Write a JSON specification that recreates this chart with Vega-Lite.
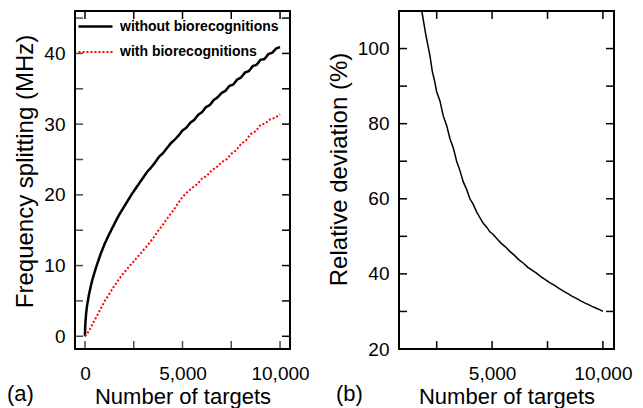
{
  "$schema": "https://vega.github.io/schema/vega-lite/v6.json",
  "padding": {"left": 6, "top": 8, "right": 5, "bottom": 0},
  "spacing": 15,
  "config": {
    "font": "Liberation Sans",
    "view": {"stroke": "black", "strokeWidth": 2},
    "axis": {"domain": false, "grid": false, "ticks": false, "minExtent": 0, "labelColor": "black", "titleColor": "black", "labelFontSize": 19, "titleFontSize": 22, "titleFontWeight": "normal", "labelFont": "Liberation Sans", "titleFont": "Liberation Sans", "labelFlush": false, "labelOverlap": false, "labelBound": false},
    "title": {"fontWeight": "normal", "fontSize": 22, "color": "black", "font": "Liberation Sans"}
  },
  "hconcat": [
    {
      "width": 215,
      "height": 338,
      "title": {"text": "(a)", "orient": "bottom", "anchor": "start", "frame": "group", "dx": -68, "dy": -27},
      "data": {"values": [
        {"n": 0, "f": 0, "s": "without biorecognitions"},
        {"n": 10, "f": 1.2, "s": "without biorecognitions"},
        {"n": 30, "f": 2.2, "s": "without biorecognitions"},
        {"n": 60, "f": 3.2, "s": "without biorecognitions"},
        {"n": 100, "f": 4.2, "s": "without biorecognitions"},
        {"n": 150, "f": 5.0, "s": "without biorecognitions"},
        {"n": 200, "f": 5.8, "s": "without biorecognitions"},
        {"n": 300, "f": 7.1, "s": "without biorecognitions"},
        {"n": 400, "f": 8.2, "s": "without biorecognitions"},
        {"n": 500, "f": 9.1, "s": "without biorecognitions"},
        {"n": 600, "f": 10.0, "s": "without biorecognitions"},
        {"n": 800, "f": 11.6, "s": "without biorecognitions"},
        {"n": 1000, "f": 13.0, "s": "without biorecognitions"},
        {"n": 1200, "f": 14.2, "s": "without biorecognitions"},
        {"n": 1400, "f": 15.3, "s": "without biorecognitions"},
        {"n": 1600, "f": 16.4, "s": "without biorecognitions"},
        {"n": 1800, "f": 17.4, "s": "without biorecognitions"},
        {"n": 2000, "f": 18.3, "s": "without biorecognitions"},
        {"n": 2200, "f": 19.2, "s": "without biorecognitions"},
        {"n": 2400, "f": 20.1, "s": "without biorecognitions"},
        {"n": 2600, "f": 20.9, "s": "without biorecognitions"},
        {"n": 2800, "f": 21.7, "s": "without biorecognitions"},
        {"n": 3000, "f": 22.5, "s": "without biorecognitions"},
        {"n": 3200, "f": 23.3, "s": "without biorecognitions"},
        {"n": 3400, "f": 23.9, "s": "without biorecognitions"},
        {"n": 3600, "f": 24.6, "s": "without biorecognitions"},
        {"n": 3800, "f": 25.4, "s": "without biorecognitions"},
        {"n": 4000, "f": 25.9, "s": "without biorecognitions"},
        {"n": 4200, "f": 26.6, "s": "without biorecognitions"},
        {"n": 4400, "f": 27.3, "s": "without biorecognitions"},
        {"n": 4600, "f": 27.8, "s": "without biorecognitions"},
        {"n": 4800, "f": 28.4, "s": "without biorecognitions"},
        {"n": 5000, "f": 29.1, "s": "without biorecognitions"},
        {"n": 5200, "f": 29.5, "s": "without biorecognitions"},
        {"n": 5400, "f": 30.2, "s": "without biorecognitions"},
        {"n": 5600, "f": 30.6, "s": "without biorecognitions"},
        {"n": 5800, "f": 31.3, "s": "without biorecognitions"},
        {"n": 6000, "f": 31.7, "s": "without biorecognitions"},
        {"n": 6200, "f": 32.4, "s": "without biorecognitions"},
        {"n": 6400, "f": 32.7, "s": "without biorecognitions"},
        {"n": 6600, "f": 33.4, "s": "without biorecognitions"},
        {"n": 6800, "f": 33.8, "s": "without biorecognitions"},
        {"n": 7000, "f": 34.4, "s": "without biorecognitions"},
        {"n": 7200, "f": 34.7, "s": "without biorecognitions"},
        {"n": 7400, "f": 35.4, "s": "without biorecognitions"},
        {"n": 7600, "f": 35.6, "s": "without biorecognitions"},
        {"n": 7800, "f": 36.3, "s": "without biorecognitions"},
        {"n": 8000, "f": 36.6, "s": "without biorecognitions"},
        {"n": 8200, "f": 37.3, "s": "without biorecognitions"},
        {"n": 8400, "f": 37.5, "s": "without biorecognitions"},
        {"n": 8600, "f": 38.2, "s": "without biorecognitions"},
        {"n": 8800, "f": 38.4, "s": "without biorecognitions"},
        {"n": 9000, "f": 39.1, "s": "without biorecognitions"},
        {"n": 9200, "f": 39.2, "s": "without biorecognitions"},
        {"n": 9400, "f": 39.9, "s": "without biorecognitions"},
        {"n": 9600, "f": 40.1, "s": "without biorecognitions"},
        {"n": 9800, "f": 40.7, "s": "without biorecognitions"},
        {"n": 10000, "f": 40.9, "s": "without biorecognitions"},
        {"n": 0, "f": 0, "s": "with biorecognitions"},
        {"n": 100, "f": 0.3, "s": "with biorecognitions"},
        {"n": 250, "f": 1.0, "s": "with biorecognitions"},
        {"n": 500, "f": 2.3, "s": "with biorecognitions"},
        {"n": 750, "f": 3.6, "s": "with biorecognitions"},
        {"n": 1000, "f": 4.9, "s": "with biorecognitions"},
        {"n": 1250, "f": 6.0, "s": "with biorecognitions"},
        {"n": 1500, "f": 7.1, "s": "with biorecognitions"},
        {"n": 1750, "f": 8.1, "s": "with biorecognitions"},
        {"n": 2000, "f": 9.0, "s": "with biorecognitions"},
        {"n": 2250, "f": 9.8, "s": "with biorecognitions"},
        {"n": 2500, "f": 10.6, "s": "with biorecognitions"},
        {"n": 2750, "f": 11.4, "s": "with biorecognitions"},
        {"n": 3000, "f": 12.2, "s": "with biorecognitions"},
        {"n": 3250, "f": 13.0, "s": "with biorecognitions"},
        {"n": 3500, "f": 13.9, "s": "with biorecognitions"},
        {"n": 3750, "f": 14.9, "s": "with biorecognitions"},
        {"n": 4000, "f": 15.8, "s": "with biorecognitions"},
        {"n": 4250, "f": 16.8, "s": "with biorecognitions"},
        {"n": 4500, "f": 17.7, "s": "with biorecognitions"},
        {"n": 4750, "f": 18.7, "s": "with biorecognitions"},
        {"n": 5000, "f": 19.7, "s": "with biorecognitions"},
        {"n": 5250, "f": 20.4, "s": "with biorecognitions"},
        {"n": 5500, "f": 21.0, "s": "with biorecognitions"},
        {"n": 5750, "f": 21.5, "s": "with biorecognitions"},
        {"n": 6000, "f": 22.3, "s": "with biorecognitions"},
        {"n": 6250, "f": 22.7, "s": "with biorecognitions"},
        {"n": 6500, "f": 23.5, "s": "with biorecognitions"},
        {"n": 6750, "f": 23.9, "s": "with biorecognitions"},
        {"n": 7000, "f": 24.6, "s": "with biorecognitions"},
        {"n": 7250, "f": 25.0, "s": "with biorecognitions"},
        {"n": 7500, "f": 25.8, "s": "with biorecognitions"},
        {"n": 7750, "f": 26.3, "s": "with biorecognitions"},
        {"n": 8000, "f": 27.2, "s": "with biorecognitions"},
        {"n": 8250, "f": 27.7, "s": "with biorecognitions"},
        {"n": 8500, "f": 28.6, "s": "with biorecognitions"},
        {"n": 8750, "f": 29.0, "s": "with biorecognitions"},
        {"n": 9000, "f": 29.9, "s": "with biorecognitions"},
        {"n": 9250, "f": 30.1, "s": "with biorecognitions"},
        {"n": 9500, "f": 30.7, "s": "with biorecognitions"},
        {"n": 9750, "f": 30.9, "s": "with biorecognitions"},
        {"n": 10000, "f": 31.4, "s": "with biorecognitions"}
      ]},
      "layer": [
        {
          "mark": {"type": "line", "clip": true},
          "encoding": {
            "x": {"field": "n", "type": "quantitative", "scale": {"domain": [-510, 10510], "nice": false, "zero": false}, "axis": {"orient": "bottom", "values": [0, 5000, 10000], "format": ",d", "labelPadding": 15, "title": "Number of targets", "titlePadding": 3}},
            "y": {"field": "f", "type": "quantitative", "scale": {"domain": [-1.8, 46], "nice": false, "zero": false}, "axis": {"orient": "left", "values": [0, 10, 20, 30, 40], "labelPadding": 10, "title": "Frequency splitting (MHz)", "titlePadding": 6, "titleFontSize": 24, "titleY": 160}},
            "color": {"field": "s", "type": "nominal", "scale": {"domain": ["without biorecognitions", "with biorecognitions"], "range": ["#000000", "#ff0000"]}, "legend": {"title": null, "orient": "none", "legendX": 2, "legendY": -3, "padding": 0, "symbolType": "stroke", "symbolSize": 1156, "symbolStrokeWidth": 2, "labelFontSize": 14, "labelFontWeight": "bold", "labelColor": "black", "labelOffset": 6, "rowPadding": 0}},
            "strokeDash": {"field": "s", "type": "nominal", "scale": {"domain": ["without biorecognitions", "with biorecognitions"], "range": [[1, 0], [2, 2]]}, "legend": {"title": null, "orient": "none", "legendX": 2, "legendY": -3, "padding": 0, "symbolType": "stroke", "symbolSize": 1156, "symbolStrokeWidth": 2, "labelFontSize": 14, "labelFontWeight": "bold", "labelColor": "black", "labelOffset": 6, "rowPadding": 0}},
            "strokeWidth": {"field": "s", "type": "nominal", "scale": {"domain": ["without biorecognitions", "with biorecognitions"], "range": [2.5, 2]}, "legend": null}
          }
        },
        {
          "data": {"values": [{"t": 0}, {"t": 2500}, {"t": 5000}, {"t": 7500}, {"t": 10000}]},
          "mark": {"type": "tick", "orient": "vertical", "size": 8, "thickness": 1.5, "yOffset": -4, "color": "black"},
          "encoding": {
            "x": {"field": "t", "type": "quantitative", "axis": null},
            "y": {"datum": -1.8, "type": "quantitative", "axis": null}
          }
        },
        {
          "data": {"values": [{"t": 0}, {"t": 2500}, {"t": 5000}, {"t": 7500}, {"t": 10000}]},
          "mark": {"type": "rule", "strokeWidth": 1.5, "color": "black"},
          "encoding": {
            "x": {"field": "t", "type": "quantitative", "axis": null},
            "y": {"datum": 46, "type": "quantitative", "axis": null},
            "y2": {"datum": 44.87}
          }
        },
        {
          "data": {"values": [{"t": 0}, {"t": 5}, {"t": 10}, {"t": 15}, {"t": 20}, {"t": 25}, {"t": 30}, {"t": 35}, {"t": 40}, {"t": 45}]},
          "mark": {"type": "tick", "orient": "horizontal", "size": 16, "thickness": 1.5, "clip": true, "color": "black"},
          "encoding": {
            "y": {"field": "t", "type": "quantitative", "axis": null},
            "x": {"datum": -510, "type": "quantitative", "axis": null}
          }
        },
        {
          "data": {"values": [{"t": 0}, {"t": 5}, {"t": 10}, {"t": 15}, {"t": 20}, {"t": 25}, {"t": 30}, {"t": 35}, {"t": 40}, {"t": 45}]},
          "mark": {"type": "rule", "strokeWidth": 1.5, "color": "black"},
          "encoding": {
            "y": {"field": "t", "type": "quantitative", "axis": null},
            "x": {"datum": 10510, "type": "quantitative", "axis": null},
            "x2": {"datum": 10100}
          }
        }
      ],
      "resolve": {"axis": {"x": "independent", "y": "independent"}}
    },
    {
      "width": 215,
      "height": 338,
      "title": {"text": "(b)", "orient": "bottom", "anchor": "start", "frame": "group", "dx": -63, "dy": -27},
      "data": {"values": [
        {"n": 1800, "d": 111},
        {"n": 1900, "d": 107.5},
        {"n": 2000, "d": 104},
        {"n": 2100, "d": 101},
        {"n": 2200, "d": 98},
        {"n": 2300, "d": 94},
        {"n": 2400, "d": 91.5},
        {"n": 2500, "d": 88.5},
        {"n": 2650, "d": 86},
        {"n": 2800, "d": 82},
        {"n": 2950, "d": 79.5},
        {"n": 3100, "d": 76},
        {"n": 3250, "d": 73.5},
        {"n": 3400, "d": 70},
        {"n": 3550, "d": 67.5},
        {"n": 3700, "d": 64.5},
        {"n": 3850, "d": 62.5},
        {"n": 4000, "d": 60},
        {"n": 4150, "d": 58.5},
        {"n": 4300, "d": 56.5},
        {"n": 4450, "d": 55},
        {"n": 4600, "d": 53.5},
        {"n": 4750, "d": 52.5},
        {"n": 4900, "d": 51.2},
        {"n": 5050, "d": 50.5},
        {"n": 5200, "d": 49.5},
        {"n": 5400, "d": 48.2},
        {"n": 5600, "d": 47.2},
        {"n": 5800, "d": 46},
        {"n": 6000, "d": 45},
        {"n": 6200, "d": 43.8},
        {"n": 6400, "d": 42.9},
        {"n": 6600, "d": 41.8},
        {"n": 6800, "d": 41},
        {"n": 7000, "d": 40.2},
        {"n": 7200, "d": 39.3},
        {"n": 7400, "d": 38.5},
        {"n": 7600, "d": 37.7},
        {"n": 7800, "d": 37},
        {"n": 8000, "d": 36.2},
        {"n": 8200, "d": 35.5},
        {"n": 8400, "d": 34.8},
        {"n": 8600, "d": 34.1},
        {"n": 8800, "d": 33.5},
        {"n": 9000, "d": 32.8},
        {"n": 9200, "d": 32.2},
        {"n": 9400, "d": 31.7},
        {"n": 9600, "d": 31.1},
        {"n": 9800, "d": 30.6},
        {"n": 10000, "d": 30}
      ]},
      "layer": [
        {
          "mark": {"type": "line", "clip": true, "color": "black", "strokeWidth": 1.5},
          "encoding": {
            "x": {"field": "n", "type": "quantitative", "scale": {"domain": [800, 10500], "nice": false, "zero": false}, "axis": {"orient": "bottom", "values": [5000, 10000], "format": ",d", "labelPadding": 15, "title": "Number of targets", "titlePadding": 3}},
            "y": {"field": "d", "type": "quantitative", "scale": {"domain": [20, 110], "nice": false, "zero": false}, "axis": {"orient": "left", "values": [20, 40, 60, 80, 100], "labelPadding": 10, "title": "Relative deviation (%)", "titlePadding": 6, "titleFontSize": 24, "titleY": 158}}
          }
        },
        {
          "data": {"values": [{"t": 2500}, {"t": 5000}, {"t": 7500}, {"t": 10000}]},
          "mark": {"type": "rule", "strokeWidth": 1.5, "color": "black"},
          "encoding": {
            "x": {"field": "t", "type": "quantitative", "axis": null},
            "y": {"datum": 20, "type": "quantitative", "axis": null},
            "y2": {"datum": 22.1}
          }
        },
        {
          "data": {"values": [{"t": 2500}, {"t": 5000}, {"t": 7500}, {"t": 10000}]},
          "mark": {"type": "rule", "strokeWidth": 1.5, "color": "black"},
          "encoding": {
            "x": {"field": "t", "type": "quantitative", "axis": null},
            "y": {"datum": 110, "type": "quantitative", "axis": null},
            "y2": {"datum": 107.9}
          }
        },
        {
          "data": {"values": [{"t": 30}, {"t": 40}, {"t": 50}, {"t": 60}, {"t": 70}, {"t": 80}, {"t": 90}, {"t": 100}]},
          "mark": {"type": "rule", "strokeWidth": 1.5, "color": "black"},
          "encoding": {
            "y": {"field": "t", "type": "quantitative", "axis": null},
            "x": {"datum": 800, "type": "quantitative", "axis": null},
            "x2": {"datum": 1160}
          }
        },
        {
          "data": {"values": [{"t": 30}, {"t": 40}, {"t": 50}, {"t": 60}, {"t": 70}, {"t": 80}, {"t": 90}, {"t": 100}]},
          "mark": {"type": "rule", "strokeWidth": 1.5, "color": "black"},
          "encoding": {
            "y": {"field": "t", "type": "quantitative", "axis": null},
            "x": {"datum": 10500, "type": "quantitative", "axis": null},
            "x2": {"datum": 10140}
          }
        }
      ],
      "resolve": {"axis": {"x": "independent", "y": "independent"}}
    }
  ]
}
